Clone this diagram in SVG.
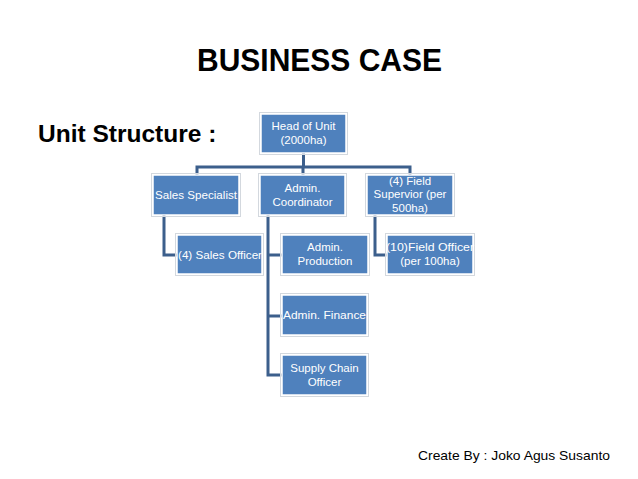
<svg xmlns="http://www.w3.org/2000/svg" width="638" height="479" viewBox="0 0 638 479">
<style>
.bg{fill:#ffffff}
.title{font-family:"Liberation Sans",Arial,sans-serif;font-weight:bold;fill:#000000}
.foot{font-family:"Liberation Sans",Arial,sans-serif;font-size:13.5px;fill:#000000}
.box{fill:#4F81BD;stroke:#ffffff;stroke-width:1.5}
.halo{fill:none;stroke:#d3d8de;stroke-width:1}
.lbl{font-family:"Liberation Sans",Arial,sans-serif;font-size:11.5px;fill:#ffffff;text-anchor:middle}
.conn{fill:none;stroke:#3C5F8C;stroke-width:3;stroke-linejoin:miter}
</style>
<rect class="bg" x="0" y="0" width="638" height="479"/>
<text class="title" x="197" y="71" font-size="32" textLength="245" lengthAdjust="spacingAndGlyphs">BUSINESS CASE</text>
<text class="title" x="38" y="142" font-size="24.5">Unit Structure :</text>
<text class="foot" x="418" y="460" textLength="192" lengthAdjust="spacingAndGlyphs">Create By : Joko Agus Susanto</text>

<g id="connectors">
<path class="conn" d="M303.5 153 V167 M197 175 V167 H410 V175 M303 167 V175"/>
<path class="conn" d="M164 215 V255 H177"/>
<path class="conn" d="M268 215 V375 H282 M268 255 H282 M268 316 H282"/>
<path class="conn" d="M375 215 V255 H387"/>
</g>

<g id="head">
<rect class="halo" x="259.5" y="112.5" width="88" height="42"/>
<rect class="box" x="261" y="114" width="85" height="39"/>
<text class="lbl" x="303.5" y="130">Head of Unit</text>
<text class="lbl" x="303.5" y="143.5">(2000ha)</text>
</g>

<g id="sales-specialist">
<rect class="halo" x="151.5" y="173.5" width="89" height="43"/>
<rect class="box" x="153" y="175" width="86" height="40"/>
<text class="lbl" x="196" y="199" textLength="82" lengthAdjust="spacingAndGlyphs">Sales Specialist</text>
</g>

<g id="admin-coordinator">
<rect class="halo" x="258.5" y="173.5" width="88" height="43"/>
<rect class="box" x="260" y="175" width="85" height="40"/>
<text class="lbl" x="302.5" y="192">Admin.</text>
<text class="lbl" x="302.5" y="205.5">Coordinator</text>
</g>

<g id="field-supervisor">
<rect class="halo" x="365.5" y="173.5" width="89" height="43"/>
<rect class="box" x="367" y="175" width="86" height="40"/>
<text class="lbl" x="410" y="184.5">(4) Field</text>
<text class="lbl" x="410" y="198">Supervior (per</text>
<text class="lbl" x="410" y="211.5">500ha)</text>
</g>

<g id="sales-officer">
<rect class="halo" x="175.5" y="233.5" width="88" height="42"/>
<rect class="box" x="177" y="235" width="85" height="39"/>
<text class="lbl" x="220" y="258.5" textLength="84" lengthAdjust="spacingAndGlyphs">(4) Sales Officer</text>
</g>

<g id="admin-production">
<rect class="halo" x="280.5" y="233.5" width="89" height="42"/>
<rect class="box" x="282" y="235" width="86" height="39"/>
<text class="lbl" x="325" y="251">Admin.</text>
<text class="lbl" x="325" y="264.5">Production</text>
</g>

<g id="field-officer">
<rect class="halo" x="385.5" y="233.5" width="89" height="42"/>
<rect class="box" x="387" y="235" width="86" height="39"/>
<text class="lbl" x="430" y="251" textLength="88" lengthAdjust="spacingAndGlyphs">(10)Field Officer</text>
<text class="lbl" x="430" y="264.5">(per 100ha)</text>
</g>

<g id="admin-finance">
<rect class="halo" x="280.5" y="293.5" width="88" height="43"/>
<rect class="box" x="282" y="295" width="85" height="40"/>
<text class="lbl" x="324.5" y="319" textLength="83" lengthAdjust="spacingAndGlyphs">Admin. Finance</text>
</g>

<g id="supply-chain-officer">
<rect class="halo" x="280.5" y="353.5" width="88" height="43"/>
<rect class="box" x="282" y="355" width="85" height="40"/>
<text class="lbl" x="324.5" y="372">Supply Chain</text>
<text class="lbl" x="324.5" y="385.5">Officer</text>
</g>
</svg>
